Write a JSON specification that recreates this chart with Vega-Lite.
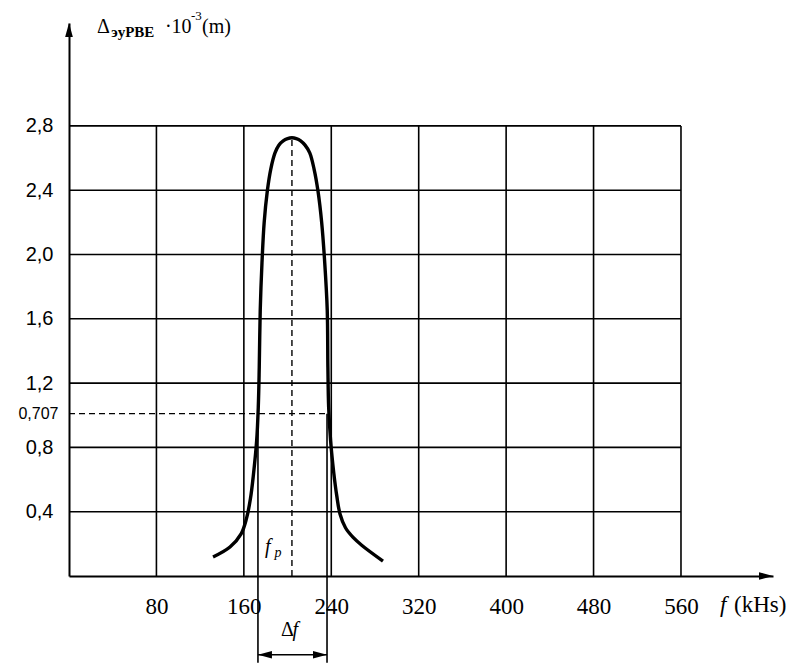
{
  "$schema": "https://vega.github.io/schema/vega-lite/v6.json",
  "width": 704,
  "height": 553,
  "autosize": {"type": "none"},
  "padding": {"left": 69, "top": 23, "right": 26, "bottom": 87},
  "background": "white",
  "config": {"view": {"stroke": null}},
  "datasets": {
    "curve": [
      {"f": 131.8, "d": 0.118}, {"f": 147.3, "d": 0.18}, {"f": 157.5, "d": 0.262},
      {"f": 162.5, "d": 0.36}, {"f": 166.0, "d": 0.48}, {"f": 168.6, "d": 0.62},
      {"f": 171.7, "d": 0.84}, {"f": 173.2, "d": 1.05}, {"f": 174.1, "d": 1.3},
      {"f": 175.0, "d": 1.655}, {"f": 176.6, "d": 1.95}, {"f": 178.6, "d": 2.2},
      {"f": 181.5, "d": 2.396}, {"f": 184.6, "d": 2.53}, {"f": 188.5, "d": 2.632},
      {"f": 192, "d": 2.68}, {"f": 196, "d": 2.707}, {"f": 200, "d": 2.721},
      {"f": 204, "d": 2.726}, {"f": 208, "d": 2.721}, {"f": 212, "d": 2.707},
      {"f": 216, "d": 2.68}, {"f": 220.3, "d": 2.632}, {"f": 224.3, "d": 2.53},
      {"f": 227.8, "d": 2.396}, {"f": 231.2, "d": 2.2}, {"f": 234.0, "d": 1.95},
      {"f": 236.3, "d": 1.655}, {"f": 236.9, "d": 1.3}, {"f": 237.6, "d": 1.05},
      {"f": 239.4, "d": 0.84}, {"f": 242.3, "d": 0.64}, {"f": 245.0, "d": 0.5},
      {"f": 248.0, "d": 0.386}, {"f": 253.0, "d": 0.3}, {"f": 260.0, "d": 0.24},
      {"f": 268.1, "d": 0.19}, {"f": 287.3, "d": 0.093}
    ],
    "vgrid": [{"f": 80}, {"f": 160}, {"f": 240}, {"f": 320}, {"f": 400}, {"f": 480}, {"f": 560}],
    "hgrid": [{"d": 0.4}, {"d": 0.8}, {"d": 1.2}, {"d": 1.6}, {"d": 2.0}, {"d": 2.4}, {"d": 2.8}],
    "bandLines": [{"f": 172.9, "d": 1.01, "d2": -0.54}, {"f": 236.1, "d": 1.01, "d2": -0.54}]
  },
  "layer": [
    {
      "data": {"name": "vgrid"},
      "mark": {"type": "rule", "stroke": "#000", "strokeWidth": 1.6},
      "encoding": {
        "x": {"field": "f", "type": "quantitative", "title": null,
          "scale": {"domain": [0, 644.2], "nice": false, "zero": false},
          "axis": {"values": [80, 160, 240, 320, 400, 480, 560], "format": "d", "grid": false,
            "ticks": false, "tickSize": 0, "domain": true, "domainColor": "#000", "domainWidth": 2,
            "labelFont": "Liberation Serif", "labelFontSize": 23, "labelColor": "#000",
            "labelPadding": 19, "labelOverlap": false, "labelFlush": false}},
        "y": {"datum": 0, "type": "quantitative", "title": null,
          "scale": {"domain": [0, 3.44], "nice": false, "zero": false},
          "axis": {"values": [0.4, 0.8, 1.01, 1.2, 1.6, 2.0, 2.4, 2.8], "grid": false,
            "ticks": false, "tickSize": 0, "domain": true, "domainColor": "#000", "domainWidth": 2,
            "labelExpr": "datum.value == 1.01 ? '0,707' : replace(format(datum.value, '.1f'), '.', ',')",
            "labelFont": "Liberation Sans", "labelColor": "#000",
            "labelFontSize": {"condition": {"test": "datum.value == 1.01", "value": 16}, "value": 20},
            "labelPadding": {"condition": {"test": "datum.value == 1.01", "value": 11}, "value": 16},
            "labelOverlap": false, "labelFlush": false}},
        "y2": {"datum": 2.8}
      }
    },
    {
      "data": {"name": "hgrid"},
      "mark": {"type": "rule", "stroke": "#000", "strokeWidth": 1.6},
      "encoding": {
        "y": {"field": "d", "type": "quantitative", "title": null},
        "x": {"datum": 0, "type": "quantitative", "title": null},
        "x2": {"datum": 560}
      }
    },
    {
      "data": {"values": [{"f0": 0, "f1": 237, "d": 1.01}]},
      "mark": {"type": "rule", "stroke": "#000", "strokeWidth": 1.4, "strokeDash": [6, 4]},
      "encoding": {
        "x": {"field": "f0", "type": "quantitative", "title": null},
        "x2": {"field": "f1"},
        "y": {"field": "d", "type": "quantitative", "title": null}
      }
    },
    {
      "data": {"values": [{"f": 204, "d0": 0, "d1": 2.72}]},
      "mark": {"type": "rule", "stroke": "#000", "strokeWidth": 1.4, "strokeDash": [6, 4]},
      "encoding": {
        "x": {"field": "f", "type": "quantitative", "title": null},
        "y": {"field": "d0", "type": "quantitative", "title": null},
        "y2": {"field": "d1"}
      }
    },
    {
      "data": {"name": "bandLines"},
      "mark": {"type": "rule", "stroke": "#000", "strokeWidth": 1.6},
      "encoding": {
        "x": {"field": "f", "type": "quantitative", "title": null},
        "y": {"field": "d", "type": "quantitative", "title": null},
        "y2": {"field": "d2"}
      }
    },
    {
      "data": {"values": [{"f0": 172.9, "f1": 236.1, "d": -0.49}]},
      "mark": {"type": "rule", "stroke": "#000", "strokeWidth": 1.6},
      "encoding": {
        "x": {"field": "f0", "type": "quantitative", "title": null},
        "x2": {"field": "f1"},
        "y": {"field": "d", "type": "quantitative", "title": null}
      }
    },
    {
      "data": {"values": [{"f": 172.9, "d": -0.49}]},
      "mark": {"type": "point", "filled": true, "color": "#000", "opacity": 1, "size": 196,
        "shape": "M0,0L2,-0.55L2,0.55Z"},
      "encoding": {
        "x": {"field": "f", "type": "quantitative", "title": null},
        "y": {"field": "d", "type": "quantitative", "title": null}
      }
    },
    {
      "data": {"values": [{"f": 236.1, "d": -0.49}, {"f": 644.2, "d": 0}]},
      "mark": {"type": "point", "filled": true, "color": "#000", "opacity": 1, "size": 196,
        "shape": "M0,0L-2,-0.55L-2,0.55Z"},
      "encoding": {
        "x": {"field": "f", "type": "quantitative", "title": null},
        "y": {"field": "d", "type": "quantitative", "title": null}
      }
    },
    {
      "data": {"values": [{"f": 0, "d": 3.44}]},
      "mark": {"type": "point", "filled": true, "color": "#000", "opacity": 1, "size": 196,
        "shape": "M0,0L-0.55,2L0.55,2Z"},
      "encoding": {
        "x": {"field": "f", "type": "quantitative", "title": null},
        "y": {"field": "d", "type": "quantitative", "title": null}
      }
    },
    {
      "data": {"name": "curve"},
      "mark": {"type": "line", "stroke": "#000", "strokeWidth": 3.4, "interpolate": "catmull-rom"},
      "encoding": {
        "x": {"field": "f", "type": "quantitative", "title": null},
        "y": {"field": "d", "type": "quantitative", "title": null},
        "order": {"field": "f", "type": "quantitative"}
      }
    },
    {
      "data": {"values": [{"t": "Δ", "f": 25.6, "d": 3.379}, {"t": "·10", "f": 87.8, "d": 3.379}, {"t": "(m)", "f": 121.7, "d": 3.379}]},
      "mark": {"type": "text", "font": "Liberation Serif", "fontSize": 20, "color": "#000", "align": "left", "baseline": "alphabetic"},
      "encoding": {
        "x": {"field": "f", "type": "quantitative", "title": null},
        "y": {"field": "d", "type": "quantitative", "title": null},
        "text": {"field": "t"}
      }
    },
    {
      "data": {"values": [{"t": "эуPBE", "f": 38.6, "d": 3.354}]},
      "mark": {"type": "text", "font": "Liberation Serif", "fontSize": 15, "fontWeight": "bold", "color": "#000", "align": "left", "baseline": "alphabetic"},
      "encoding": {
        "x": {"field": "f", "type": "quantitative", "title": null},
        "y": {"field": "d", "type": "quantitative", "title": null},
        "text": {"field": "t"}
      }
    },
    {
      "data": {"values": [{"t": "-3", "f": 111.6, "d": 3.46}]},
      "mark": {"type": "text", "font": "Liberation Serif", "fontSize": 13, "color": "#000", "align": "left", "baseline": "alphabetic"},
      "encoding": {
        "x": {"field": "f", "type": "quantitative", "title": null},
        "y": {"field": "d", "type": "quantitative", "title": null},
        "text": {"field": "t"}
      }
    },
    {
      "data": {"values": [{"t": "f", "f": 595.7, "d": -0.224}]},
      "mark": {"type": "text", "font": "Liberation Serif", "fontStyle": "italic", "fontSize": 23, "color": "#000", "align": "left", "baseline": "alphabetic"},
      "encoding": {
        "x": {"field": "f", "type": "quantitative", "title": null},
        "y": {"field": "d", "type": "quantitative", "title": null},
        "text": {"field": "t"}
      }
    },
    {
      "data": {"values": [{"t": "(kHs)", "f": 608.5, "d": -0.224}]},
      "mark": {"type": "text", "font": "Liberation Serif", "fontSize": 23, "color": "#000", "align": "left", "baseline": "alphabetic"},
      "encoding": {
        "x": {"field": "f", "type": "quantitative", "title": null},
        "y": {"field": "d", "type": "quantitative", "title": null},
        "text": {"field": "t"}
      }
    },
    {
      "data": {"values": [{"t": "f", "f": 179.3, "d": 0.143}, {"t": "f", "f": 204.5, "d": -0.373}]},
      "mark": {"type": "text", "font": "Liberation Serif", "fontStyle": "italic", "fontSize": 20, "color": "#000", "align": "left", "baseline": "alphabetic"},
      "encoding": {
        "x": {"field": "f", "type": "quantitative", "title": null},
        "y": {"field": "d", "type": "quantitative", "title": null},
        "text": {"field": "t"}
      }
    },
    {
      "data": {"values": [{"t": "p", "f": 188.0, "d": 0.118}]},
      "mark": {"type": "text", "font": "Liberation Serif", "fontStyle": "italic", "fontSize": 14, "color": "#000", "align": "left", "baseline": "alphabetic"},
      "encoding": {
        "x": {"field": "f", "type": "quantitative", "title": null},
        "y": {"field": "d", "type": "quantitative", "title": null},
        "text": {"field": "t"}
      }
    },
    {
      "data": {"values": [{"t": "Δ", "f": 194.0, "d": -0.373}]},
      "mark": {"type": "text", "font": "Liberation Serif", "fontSize": 20, "color": "#000", "align": "left", "baseline": "alphabetic"},
      "encoding": {
        "x": {"field": "f", "type": "quantitative", "title": null},
        "y": {"field": "d", "type": "quantitative", "title": null},
        "text": {"field": "t"}
      }
    }
  ]
}
